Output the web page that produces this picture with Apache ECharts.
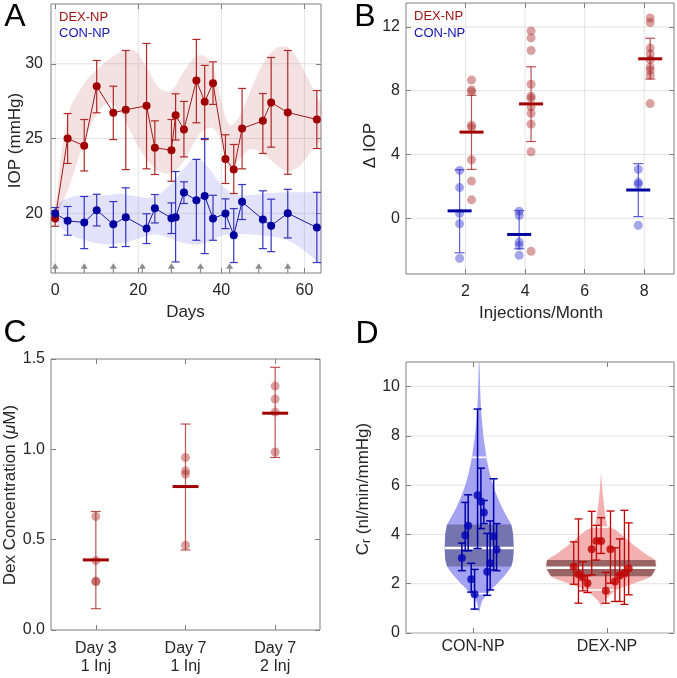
<!DOCTYPE html>
<html><head><meta charset="utf-8">
<script src="https://cdn.jsdelivr.net/npm/echarts@6/dist/echarts.min.js"></script>
<style>html,body{margin:0;padding:0;background:#fff}#c{width:677px;height:678px}</style>
</head><body><div id="c"></div><script>
// ---------- Panel A : IOP over days ----------
const aDays = [0,3,7,10,14,17,22,24,28,29,31,34,36,38,41,43,45,50,52,56,63];
const aDexMean = [19.64,25.0,24.51,28.5,26.72,26.92,27.19,24.38,24.22,26.56,25.6,28.88,27.46,28.7,23.62,22.92,25.67,26.18,27.41,26.74,26.27];
const aDexLow  = [19.13,23.33,22.83,26.72,24.93,22.92,22.97,22.59,22.14,24.9,23.77,26.05,24.93,27.28,21.99,21.32,22.97,24.0,24.42,22.61,24.33];
const aDexHigh = [20.16,26.67,26.27,30.22,28.5,30.89,31.36,26.18,26.27,27.99,27.48,31.63,29.89,30.13,25.25,24.6,28.35,28.01,30.42,30.89,28.21];
const aConMean = [19.98,19.49,19.38,20.2,19.26,19.73,18.97,20.33,19.67,19.73,21.38,20.87,21.16,19.64,19.98,18.53,20.76,19.58,19.17,20.0,19.04];
const aConLow  = [19.58,18.53,17.63,19.15,17.72,17.77,17.97,19.35,18.64,16.74,20.65,18.19,17.3,18.19,18.97,16.7,19.58,17.63,17.43,18.35,16.7];
const aConHigh = [20.38,20.45,21.12,21.27,20.78,21.7,19.96,21.25,20.69,22.79,22.1,23.6,25.0,21.2,20.96,20.31,21.92,21.5,20.94,21.6,21.4];
const aDexBandDays  = [0,3,7,10,13,16,19,22,25,28,31,34,36,38,40,42,44,47,50,53,56,59,63,66];
const aDexBandUpper = [20.2,26.5,28.7,29.6,30.3,30.8,30.9,29.8,28.4,28.2,29.5,30.5,30.5,29.8,27.5,25.9,26.3,28.2,30.0,31.0,31.1,30.0,27.8,26.5];
const aDexBandLower = [19.7,21.5,24.8,26.6,27.4,26.6,25.0,23.6,22.8,22.7,23.5,25.0,25.6,25.7,24.8,23.0,23.5,24.3,24.0,23.3,22.8,23.2,24.6,25.0];
const aConBandDays  = [0,3,7,12,16,20,24,28,31,34,37,40,43,46,50,55,59,63,66];
const aConBandUpper = [20.4,21.0,21.2,21.2,21.3,21.1,21.1,22.0,23.0,23.7,23.0,21.9,21.3,21.2,21.3,21.4,21.4,21.4,21.4];
const aConBandLower = [19.5,18.7,18.2,17.9,18.0,18.3,18.6,18.3,18.0,17.9,18.1,18.5,18.6,18.6,18.5,18.3,17.7,16.8,16.2];
const aInjectionDays = [0,7,14,21,28,35,42,49,56];
const aXTicks = [0,20,40,60];
const aYTicks = [20,25,30];

// ---------- Panel B : delta IOP vs injections/month ----------
const bDexX = [2.2,4.2,8.2];
const bConX = [1.8,3.8,7.8];
const bDex2 = [8.67,8.04,7.94,5.83,5.69,3.67,2.33,1.15];
const bDex4 = [11.75,11.31,10.52,8.4,7.65,7.52,6.98,6.58,5.9,4.17,-2.08];
const bDex8 = [12.56,12.27,10.67,10.31,9.94,9.48,9.27,8.96,7.19];
const bCon2 = [3.0,1.92,0.31,-0.35,-2.52];
const bCon4 = [0.44,0.17,-1.5,-1.71,-2.33];
const bCon8 = [3.06,2.25,2.13,-0.44];
const bDexMean = [5.4,7.17,10.0];
const bDexLow  = [3.06,4.81,8.73];
const bDexHigh = [7.71,9.5,11.29];
const bConMean = [0.46,-1.02,1.77];
const bConLow  = [-2.17,-1.92,0.1];
const bConHigh = [3.04,0.48,3.42];
const bXTicks = [2,4,6,8];
const bYTicks = [0,4,8,12];

// ---------- Panel C : Dex concentration ----------
const cCategories = ['Day 3\n1 Inj','Day 7\n1 Inj','Day 7\n2 Inj'];
const cPts1 = [0.628,0.384,0.268,0.27];
const cPts2 = [0.955,0.881,0.863,0.469];
const cPts3 = [1.35,1.278,1.206,0.985];
const cMean = [0.388,0.794,1.2];
const cLow  = [0.118,0.443,0.955];
const cHigh = [0.656,1.14,1.454];
const cYTicks = [0,0.5,1.0,1.5];

// ---------- Panel D : outflow facility ----------
const dCategories = ['CON-NP','DEX-NP'];
const dConViolinY = [0.8,1.0,1.3,1.6,1.8,2.0,2.3,2.7,3.0,3.45,4.0,4.4,4.7,5.0,5.5,6.0,6.5,7.13,7.5,8.0,9.0,10.0,11.0];
const dConViolinW = [0,0.007,0.022,0.067,0.097,0.134,0.186,0.239,0.253,0.257,0.253,0.239,0.209,0.179,0.138,0.104,0.078,0.054,0.045,0.032,0.015,0.007,0.002];
const dDexViolinY = [1.1,1.3,1.5,1.75,2.0,2.3,2.65,2.96,3.2,3.5,3.8,4.0,4.2,4.3,4.6,5.0,5.5,6.0,6.5];
const dDexViolinW = [0,0.022,0.06,0.112,0.239,0.373,0.41,0.403,0.335,0.261,0.194,0.149,0.104,0.052,0.037,0.026,0.015,0.007,0];
const dConX    = [0.917,0.942,0.964,0.987,1.012,1.034,1.059,1.081,1.106,1.128,1.154,1.176];
const dConY    = [3.04,3.97,4.35,2.18,1.57,5.59,5.34,4.89,2.49,2.83,3.93,3.39];
const dConLow  = [2.53,3.34,3.34,1.66,0.97,3.43,4.24,4.44,1.53,1.75,2.56,2.53];
const dConHigh = [3.65,5.30,5.61,2.83,2.58,9.09,6.69,5.38,4.04,4.55,6.26,4.44];
const dDexX    = [1.752,1.787,1.819,1.854,1.886,1.921,1.956,1.991,2.026,2.060,2.095,2.130,2.162];
const dDexY    = [2.69,2.38,2.25,2.02,3.40,3.73,3.73,1.72,3.40,2.09,2.33,2.42,2.62];
const dDexLow  = [1.98,1.21,1.71,1.64,2.36,2.96,3.23,1.21,2.02,1.28,1.28,1.16,1.55];
const dDexHigh = [3.70,4.63,2.89,2.33,4.94,4.37,4.68,2.46,4.95,3.46,3.82,4.98,4.47];
const dYTicks = [0,2,4,6,8,10];
const dXTicks = [1,2];

// ---------- helpers ----------
const FONT = "'Liberation Sans', Arial, Helvetica, sans-serif";
const TXT = '#262626';
const FRAME = '#7f7f7f';
const GRIDC = '#e2e2e2';
const zip = (xs, ys) => xs.map((x, i) => [x, ys[i]]);
const zip3 = (xs, a, b) => xs.map((x, i) => [x, a[i], b[i]]);

function xPair(g, min, max, ticks, o) {
  o = o || {};
  return [
    {type:'value', gridIndex:g, min, max, position:'bottom', axisLine:{show:false, onZero:false},
     axisTick:{show:true, inside:true, length:5, customValues:ticks, lineStyle:{color:FRAME}},
     axisLabel:{customValues:ticks, formatter:o.fmt || (v => String(v)), color:TXT, fontSize:16, fontFamily:FONT, margin:o.margin || 8, lineHeight:o.lh || 18},
     splitLine:{show:false}},
    {type:'value', gridIndex:g, min, max, position:'top', axisLine:{show:false, onZero:false},
     axisTick:{show:true, inside:true, length:5, customValues:ticks, lineStyle:{color:FRAME}},
     axisLabel:{show:false}, splitLine:{show:false}}
  ];
}
function yPair(g, min, max, ticks, o) {
  o = o || {};
  return [
    {type:'value', gridIndex:g, min, max, position:'left', axisLine:{show:false, onZero:false},
     axisTick:{show:true, inside:true, length:5, customValues:ticks, lineStyle:{color:FRAME}},
     axisLabel:{customValues:ticks, formatter:o.fmt || (v => String(v)), color:TXT, fontSize:16, fontFamily:FONT, margin:o.margin || 7},
     splitLine:{show:false}},
    {type:'value', gridIndex:g, min, max, position:'right', axisLine:{show:false, onZero:false},
     axisTick:{show:true, inside:true, length:5, customValues:ticks, lineStyle:{color:FRAME}},
     axisLabel:{show:false}, splitLine:{show:false}}
  ];
}
// grid lines drawn through the axes' own scales
function gridRender(xs, ys) {
  return function (params, api) {
    if (params.dataIndex !== 0) return null;
    const cs = params.coordSys;
    const ch = [];
    const style = {stroke:GRIDC, lineWidth:1};
    const ref = api.coord([api.value(0), api.value(1)]);
    xs.forEach(x => { const p = api.coord([x, api.value(1)]); ch.push({type:'line', shape:{x1:p[0], y1:cs.y, x2:p[0], y2:cs.y + cs.height}, style}); });
    ys.forEach(y => { const p = api.coord([api.value(0), y]); ch.push({type:'line', shape:{x1:cs.x, y1:p[1], x2:cs.x + cs.width, y2:p[1]}, style}); });
    return {type:'group', children:ch};
  };
}
function errRender(cap, color, width) {
  return function (params, api) {
    const x = api.value(0);
    const lo = api.coord([x, api.value(1)]), hi = api.coord([x, api.value(2)]);
    const style = {stroke:color, lineWidth:width};
    return {type:'group', children:[
      {type:'line', shape:{x1:lo[0], y1:lo[1], x2:hi[0], y2:hi[1]}, style},
      {type:'line', shape:{x1:lo[0]-cap, y1:lo[1], x2:lo[0]+cap, y2:lo[1]}, style},
      {type:'line', shape:{x1:hi[0]-cap, y1:hi[1], x2:hi[0]+cap, y2:hi[1]}, style}
    ]};
  };
}
function meanRender(half, color, width) {
  return function (params, api) {
    const p = api.coord([api.value(0), api.value(1)]);
    return {type:'line', shape:{x1:p[0]-half, y1:p[1], x2:p[0]+half, y2:p[1]}, style:{stroke:color, lineWidth:width}};
  };
}
function bandRender(xs, up, lo, fill) {
  return function (params, api) {
    if (params.dataIndex !== 0) return null;
    const pts = xs.map((x, i) => api.coord([x, up[i]])).concat(xs.map((x, i) => api.coord([x, lo[i]])).reverse());
    return {type:'polygon', shape:{points:pts, smooth:0.35}, style:{fill}};
  };
}
function violinRender(cx, ys, ws, q1, q3, med, whites, light, dark) {
  return function (params, api) {
    if (params.dataIndex !== 0) return null;
    const right = ys.map((y, i) => api.coord([cx + ws[i], y]));
    const left = ys.map((y, i) => api.coord([cx - ws[i], y])).reverse();
    const idx = ys.map((y, i) => i).filter(i => ys[i] >= q1 && ys[i] <= q3);
    const br = idx.map(i => api.coord([cx + ws[i], ys[i]]));
    const bl = idx.map(i => api.coord([cx - ws[i], ys[i]])).reverse();
    const children = [
      {type:'polygon', shape:{points:right.concat(left), smooth:0.3}, style:{fill:light}},
      {type:'polygon', shape:{points:br.concat(bl)}, style:{fill:dark}}
    ];
    [med].concat(whites).forEach((y, k) => {
      const i = ys.indexOf(y);
      const a = api.coord([cx - ws[i], y]), b = api.coord([cx + ws[i], y]);
      children.push({type:'line', shape:{x1:a[0], y1:a[1], x2:b[0], y2:b[1]}, style:{stroke:'#fff', lineWidth:k === 0 ? 2.4 : 1.6}});
    });
    return {type:'group', children};
  };
}

const DEX_A = '#a00000', CON_A = '#0000a0';
const ptsB = (xs, groups) => groups.flatMap((g, k) => g.map(v => [xs[k], v]));

const series = [
  // grid lines
  {type:'custom', xAxisIndex:0, yAxisIndex:0, silent:true, data:[[30,25]], renderItem:gridRender(aXTicks, aYTicks), z:0},
  {type:'custom', xAxisIndex:2, yAxisIndex:2, silent:true, data:[[4,4]], renderItem:gridRender(bXTicks, bYTicks), z:0},
  {type:'custom', xAxisIndex:6, yAxisIndex:6, silent:true, data:[[1.5,5]], renderItem:gridRender([], dYTicks), z:0},
  // Panel A
  {type:'custom', xAxisIndex:0, yAxisIndex:0, clip:true, silent:true, data:[[0,20]], renderItem:bandRender(aDexBandDays, aDexBandUpper, aDexBandLower, 'rgba(200,110,110,0.2)'), z:1},
  {type:'custom', xAxisIndex:0, yAxisIndex:0, clip:true, silent:true, data:[[0,20]], renderItem:bandRender(aConBandDays, aConBandUpper, aConBandLower, 'rgba(110,110,230,0.2)'), z:1},
  {type:'custom', xAxisIndex:0, yAxisIndex:0, clip:true, data:zip3(aDays, aDexLow, aDexHigh), encode:{x:0, y:[1,2]}, renderItem:errRender(4, '#b02828', 1.2), z:2},
  {type:'custom', xAxisIndex:0, yAxisIndex:0, clip:true, data:zip3(aDays, aConLow, aConHigh), encode:{x:0, y:[1,2]}, renderItem:errRender(4, '#3434c0', 1.2), z:2},
  {type:'line', name:'DEX-NP', xAxisIndex:0, yAxisIndex:0, data:zip(aDays, aDexMean), symbol:'circle', symbolSize:8, itemStyle:{color:DEX_A}, lineStyle:{color:'#a01818', width:1}, z:3},
  {type:'line', name:'CON-NP', xAxisIndex:0, yAxisIndex:0, data:zip(aDays, aConMean), symbol:'circle', symbolSize:8, itemStyle:{color:CON_A}, lineStyle:{color:'#1818a0', width:1}, z:3},
  {type:'custom', xAxisIndex:0, yAxisIndex:0, clip:true, silent:true, data:aInjectionDays.map(d => [d, 16]), renderItem:function (params, api) {
    const tip = api.coord([api.value(0), 16.65]);
    const base = api.coord([api.value(0), 16]);
    return {type:'group', children:[
      {type:'line', shape:{x1:tip[0], y1:tip[1]+4, x2:base[0], y2:base[1]}, style:{stroke:'#8c8c8c', lineWidth:1.2}},
      {type:'polygon', shape:{points:[[tip[0], tip[1]], [tip[0]-3.5, tip[1]+5.5], [tip[0]+3.5, tip[1]+5.5]]}, style:{fill:'#8c8c8c'}}
    ]};
  }, z:4},
  // Panel B
  {type:'scatter', xAxisIndex:2, yAxisIndex:2, data:ptsB(bDexX, [bDex2, bDex4, bDex8]), symbolSize:9, itemStyle:{color:'rgba(170,40,40,0.55)'}, z:2},
  {type:'scatter', xAxisIndex:2, yAxisIndex:2, data:ptsB(bConX, [bCon2, bCon4, bCon8]), symbolSize:9, itemStyle:{color:'rgba(30,30,200,0.5)'}, z:2},
  {type:'custom', xAxisIndex:2, yAxisIndex:2, data:zip3(bDexX, bDexLow, bDexHigh), encode:{x:0, y:[1,2]}, renderItem:errRender(5, 'rgba(170,40,40,0.8)', 1.2), z:3},
  {type:'custom', xAxisIndex:2, yAxisIndex:2, data:zip3(bConX, bConLow, bConHigh), encode:{x:0, y:[1,2]}, renderItem:errRender(5, 'rgba(40,40,200,0.75)', 1.2), z:3},
  {type:'custom', xAxisIndex:2, yAxisIndex:2, data:zip(bDexX, bDexMean), encode:{x:0, y:1}, renderItem:meanRender(12, '#a00000', 3), z:4},
  {type:'custom', xAxisIndex:2, yAxisIndex:2, data:zip(bConX, bConMean), encode:{x:0, y:1}, renderItem:meanRender(12, '#0000a0', 3), z:4},
  // Panel C
  {type:'scatter', xAxisIndex:4, yAxisIndex:4, data:ptsB([1,2,3], [cPts1, cPts2, cPts3]), symbolSize:9, itemStyle:{color:'rgba(170,40,40,0.55)'}, z:2},
  {type:'custom', xAxisIndex:4, yAxisIndex:4, data:zip3([1,2,3], cLow, cHigh), encode:{x:0, y:[1,2]}, renderItem:errRender(5, 'rgba(170,40,40,0.8)', 1.2), z:3},
  {type:'custom', xAxisIndex:4, yAxisIndex:4, data:zip([1,2,3], cMean), encode:{x:0, y:1}, renderItem:meanRender(13, '#a00000', 3), z:4},
  // Panel D
  {type:'custom', xAxisIndex:6, yAxisIndex:6, clip:true, silent:true, data:[[1,3]], renderItem:violinRender(1.046, dConViolinY, dConViolinW, 2.7, 4.4, 3.45, [7.13, 1.6], '#a3a3f2', '#7474b0'), z:1},
  {type:'custom', xAxisIndex:6, yAxisIndex:6, clip:true, silent:true, data:[[2,3]], renderItem:violinRender(1.956, dDexViolinY, dDexViolinW, 2.3, 2.96, 2.65, [4.3, 1.75], '#f2b0b0', '#9a6464'), z:1},
  {type:'custom', xAxisIndex:6, yAxisIndex:6, data:zip3(dConX, dConLow, dConHigh), encode:{x:0, y:[1,2]}, renderItem:errRender(4, '#0000a8', 1.5), z:2},
  {type:'custom', xAxisIndex:6, yAxisIndex:6, data:zip3(dDexX, dDexLow, dDexHigh), encode:{x:0, y:[1,2]}, renderItem:errRender(4, '#c00000', 1.3), z:2},
  {type:'scatter', xAxisIndex:6, yAxisIndex:6, data:zip(dConX, dConY), symbolSize:8, itemStyle:{color:'#0000b4'}, z:3},
  {type:'scatter', xAxisIndex:6, yAxisIndex:6, data:zip(dDexX, dDexY), symbolSize:8, itemStyle:{color:'#c00000'}, z:3}
];

const txt = (text, x, y, size, color, extra) => Object.assign({type:'text', x, y, silent:true, style:{text, fill:color || TXT, fontSize:size, fontFamily:FONT, align:'center', verticalAlign:'middle'}}, extra || {});
const graphics = [
  txt('A', 15, 17, 32, '#000'), txt('B', 365, 17, 32, '#000'), txt('C', 15, 333, 32, '#000'), txt('D', 367, 334, 32, '#000'),
  txt('IOP (mmHg)', 15, 140.5, 17, TXT, {rotation:Math.PI/2}),
  txt('Days', 185.5, 312, 17),
  txt('Δ IOP', 370, 145.5, 17, TXT, {rotation:Math.PI/2}),
  txt('Injections/Month', 541, 313, 17),
  {type:'text', x:10, y:495, rotation:Math.PI/2, silent:true, style:{text:'{a|Dex Concentration (}{m|μ}{a|M)}', align:'center', verticalAlign:'middle', rich:{a:{fontSize:17, fontFamily:FONT, fill:TXT}, m:{fontSize:17, fontFamily:FONT, fill:TXT, fontStyle:'italic'}}}},
  {type:'text', x:363, y:489, rotation:Math.PI/2, silent:true, style:{text:'{a|C}{s|r}{a| (nl/min/mmHg)}', align:'center', verticalAlign:'middle', rich:{a:{fontSize:17, fontFamily:FONT, fill:TXT, lineHeight:20}, s:{fontSize:12, fontFamily:FONT, fill:TXT, lineHeight:12, verticalAlign:'bottom'}}}},
  {type:'text', x:59, y:17, silent:true, style:{text:'DEX-NP', fill:'#a01414', fontSize:13, fontFamily:FONT, align:'left', verticalAlign:'middle'}},
  {type:'text', x:59, y:33.5, silent:true, style:{text:'CON-NP', fill:'#1414b4', fontSize:13, fontFamily:FONT, align:'left', verticalAlign:'middle'}},
  {type:'text', x:414, y:16.5, silent:true, style:{text:'DEX-NP', fill:'#a01414', fontSize:13, fontFamily:FONT, align:'left', verticalAlign:'middle'}},
  {type:'text', x:414, y:33.5, silent:true, style:{text:'CON-NP', fill:'#1414b4', fontSize:13, fontFamily:FONT, align:'left', verticalAlign:'middle'}}
];

const gridStyle = {show:true, borderColor:FRAME, borderWidth:1, backgroundColor:'transparent'};
const option = {
  animation:false,
  grid:[
    Object.assign({left:51, top:4, width:270, height:269}, gridStyle),
    Object.assign({left:406, top:3, width:268, height:271}, gridStyle),
    Object.assign({left:51, top:359, width:269, height:271}, gridStyle),
    Object.assign({left:406, top:362, width:268, height:271}, gridStyle)
  ],
  xAxis:[].concat(
    xPair(0, -1, 64, aXTicks, {margin:9}),
    xPair(1, 0, 9, bXTicks, {margin:9}),
    xPair(2, 0.5, 3.5, [1,2,3], {fmt:v => cCategories[Math.round(v) - 1], margin:9, lh:18.5}),
    xPair(3, 0.5, 2.5, dXTicks, {fmt:v => dCategories[Math.round(v) - 1], margin:5})
  ),
  yAxis:[].concat(
    yPair(0, 16, 34, aYTicks, {margin:8}),
    yPair(1, -3.5, 13.5, bYTicks, {margin:6}),
    yPair(2, 0, 1.5, cYTicks, {fmt:v => v.toFixed(1), margin:6}),
    yPair(3, 0, 11, dYTicks, {margin:6})
  ),
  series,
  graphic:graphics
};
const chart = echarts.init(document.getElementById('c'), null, {renderer:'canvas'});
chart.setOption(option);
</script></body></html>
